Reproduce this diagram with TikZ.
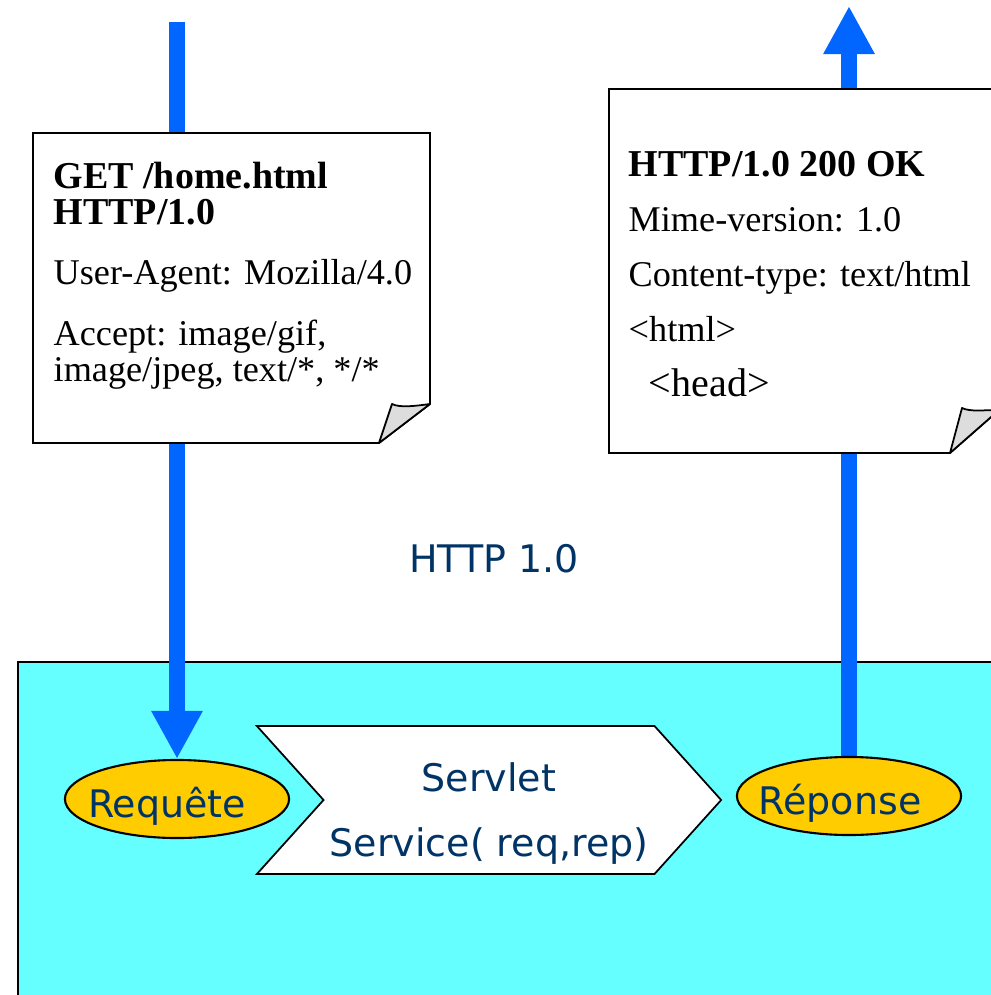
\documentclass[tikz,border=0pt]{standalone}
\usepackage{fontspec}
\setmainfont{Liberation Serif}
\setsansfont{DejaVu Sans}
\usepackage{tikz}
\usetikzlibrary{arrows.meta, positioning, shapes.geometric, shapes.symbols, backgrounds}
\usepackage{xcolor}
\definecolor{flowblue}{RGB}{0, 102, 255}
\definecolor{servercyan}{RGB}{102, 255, 255}
\definecolor{msgyellow}{RGB}{255, 204, 0}
\definecolor{navytext}{RGB}{0, 51, 102}
\definecolor{foldgray}{RGB}{221, 221, 221}
\newcommand{\msghead}[1]{{\bfseries\fontsize{10.8}{10.3}\selectfont #1}}

\begin{document}
\begin{tikzpicture}[
    x=0.01cm, y=-0.01cm,
    flow/.style={flowblue, line width=0.16cm,
                 -{Triangle[length=0.48cm, width=0.48cm]}},
    docbox/.style={draw, fill=white, line width=0.5pt},
    fold/.style={draw, fill=foldgray, line width=0.5pt, line join=round},
    doctext/.style={anchor=north west, inner sep=0pt, align=left,
                    font=\fontsize{10.3}{10.3}\selectfont},
    bluetext/.style={font=\sffamily\fontsize{10.8}{18.5}\selectfont, text=navytext},
    msg/.style={ellipse, draw, fill=msgyellow, line width=0.6pt, inner sep=0pt,
                minimum width=2.24cm, minimum height=0.78cm,
                text height=0.44cm, text depth=0.08cm, bluetext},
    servletbox/.style={signal, signal from=west, signal to=east,
                 signal pointer angle=96, draw, fill=white, line width=0.5pt,
                 minimum width=4.64cm, minimum height=1.48cm, inner sep=0pt,
                 align=center, bluetext},
  ]
    \useasboundingbox (0,0) rectangle (990,995);

    % Request / response messages
    \node[msg] (requete) at (177,799) {\makebox[0pt]{Requête\hspace{0.2cm}}};
    \node[msg] (reponse) at (849,796) {\makebox[0pt]{Réponse\hspace{0.18cm}}};

    % Servlet
    \node[servletbox] (servlet) at (489,800)
      {\rule{0pt}{0.55cm}Servlet\\Service( req,rep)};

    % Protocol
    \node[bluetext] (proto) at (494,559) {HTTP 1.0};

    % Arrow ends
    \coordinate (reqsrc) at (177,22);
    \coordinate (repdst) at (849,6);

    % Server area and flows
    \begin{scope}[on background layer]
      \filldraw[fill=servercyan, draw=black, line width=0.8pt]
        (18,662) rectangle (1010,1010);
      \draw[flow] (reqsrc) -- (requete.north);
      \draw[flow] (reponse.north) -- (repdst);
    \end{scope}

    % Request document
    \draw[docbox] (33,133) -- (430,133) -- (430,404) -- (379,443)
      -- (33,443) -- cycle;
    \draw[fold] (379,443) -- (430,404) .. controls (415,406) and (400,408)
      .. (392,404) -- cycle;
    \node[doctext] (reqtext) at (53,161)
      {\msghead{GET /home.html}\\ \msghead{HTTP/1.0}\\[6.9pt]
       User-Agent: Mozilla/4.0\\[6.9pt]
       Accept: image/gif,\\ image/jpeg, text/*, */*};

    % Response document
    \draw[docbox] (609,89) -- (999,89) -- (999,410) -- (950,453)
      -- (609,453) -- cycle;
    \draw[fold] (950,453) -- (999,410) .. controls (984,410) and (970,412)
      .. (962,408) -- cycle;
    \node[doctext, font=\fontsize{10.3}{15.6}\selectfont] (reptext) at (628,151)
      {\msghead{HTTP/1.0 200 OK}\\ Mime-version: 1.0\\ Content-type: text/html\\
       <html>\\ \hspace{5.7pt}{\fontsize{11.4}{15.6}\selectfont <head>}};
  \end{tikzpicture}
\end{document}
